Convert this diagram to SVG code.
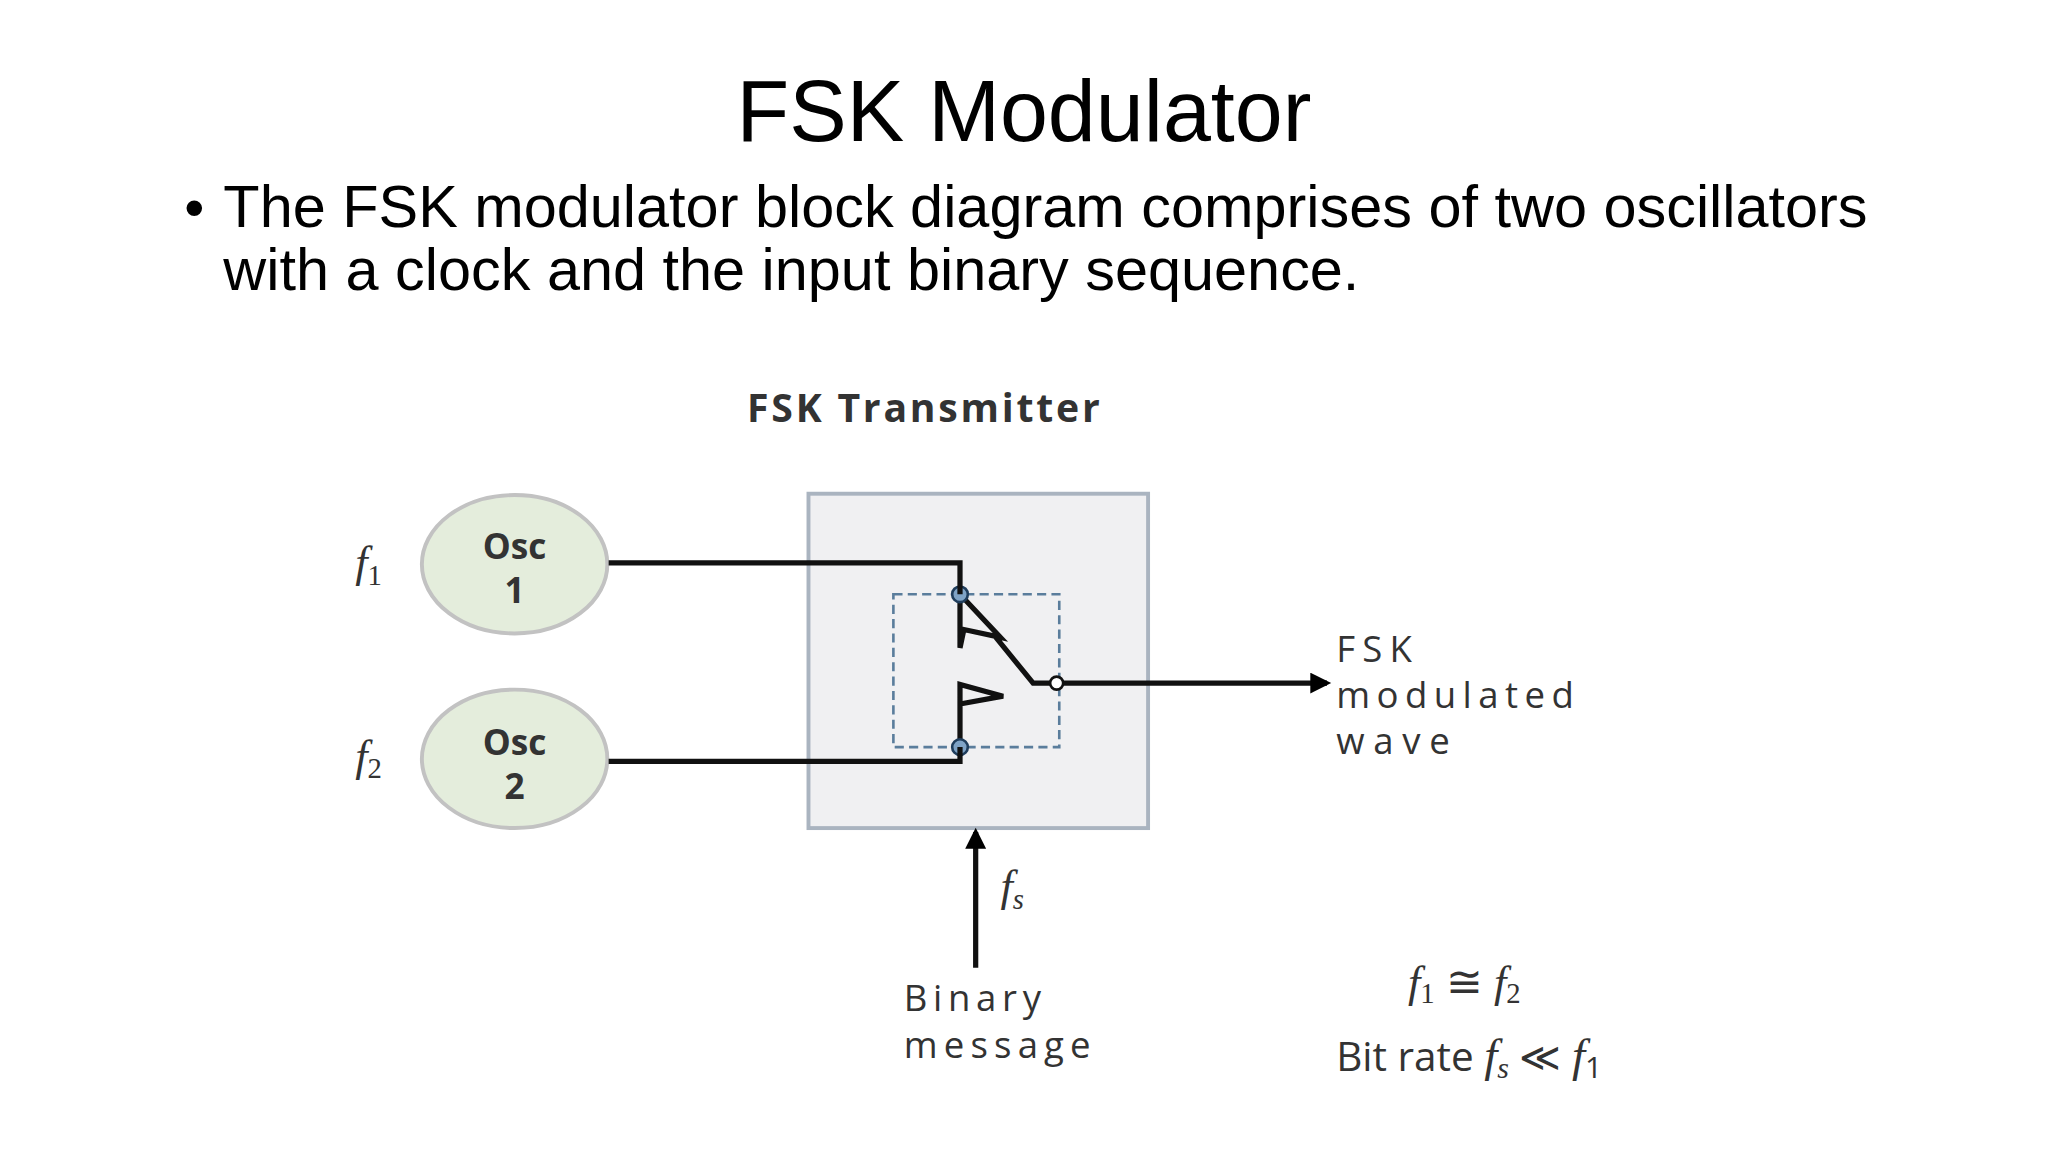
<svg xmlns="http://www.w3.org/2000/svg" width="2048" height="1152" viewBox="0 0 2048 1152">
<style>
.t{font-family:"Liberation Sans",Arial,sans-serif;fill:#000}
.d{font-family:"Open Sans","Liberation Sans",sans-serif;fill:#333}
.m{font-family:"Liberation Serif","Times New Roman",serif;font-style:italic;fill:#333}
.w{stroke:#111;stroke-width:4;fill:none}
</style>
<defs>
<marker id="ah" viewBox="0 0 10 10" refX="8" refY="5" markerWidth="5" markerHeight="4" orient="auto">
<path d="M0,0 L10,5 L0,10 z" fill="#000"/>
</marker>
</defs>
<rect width="2048" height="1152" fill="#fff"/>
<g transform="scale(1.30612)">
<text class="t" x="784" y="108" font-size="66" text-anchor="middle">FSK Modulator</text>
<text class="t" x="141" y="174" font-size="44">•</text>
<text class="t" x="171" y="174" font-size="45.5">The FSK modulator block diagram comprises of two oscillators</text>
<text class="t" x="171" y="222" font-size="45.5">with a clock and the input binary sequence.</text>

<g id="title"><text class="d" x="572" y="323" font-size="30" font-weight="bold" textLength="270" lengthAdjust="spacing">FSK Transmitter</text></g>

<g id="box"><rect x="619" y="378" width="260" height="256" fill="#f0f0f2" stroke="#aab4c0" stroke-width="3"/></g>

<g id="osc1">
<ellipse cx="394" cy="432" rx="71" ry="53" fill="#e4eddc" stroke="#c2c2c2" stroke-width="3"/>
<text class="d" x="394" y="428" font-size="27" font-weight="bold" text-anchor="middle">Osc</text>
<text class="d" x="394" y="462" font-size="27" font-weight="bold" text-anchor="middle">1</text>
<text class="m" x="272" y="442" font-size="34">f<tspan font-size="22" dy="6" font-style="normal">1</tspan></text>
</g>
<g id="osc2">
<ellipse cx="394" cy="581" rx="71" ry="53" fill="#e4eddc" stroke="#c2c2c2" stroke-width="3"/>
<text class="d" x="394" y="578" font-size="27" font-weight="bold" text-anchor="middle">Osc</text>
<text class="d" x="394" y="612" font-size="27" font-weight="bold" text-anchor="middle">2</text>
<text class="m" x="272" y="590" font-size="34">f<tspan font-size="22" dy="6" font-style="normal">2</tspan></text>
</g>

<g id="switch">
<rect x="684" y="455" width="127" height="117" fill="none" stroke="#5a7d9c" stroke-width="2" stroke-dasharray="7,4"/>
<path class="w" d="M735,455 V496 L738,482 L766,488 Z M760,485 L791,523 H806"/>
<path class="w" d="M735,572 V524 L768,533 L735,539"/>
<circle cx="735" cy="455" r="6" fill="#7fa3c6" stroke="#1f3d5c" stroke-width="2"/>
<circle cx="735" cy="572" r="6" fill="#7fa3c6" stroke="#1f3d5c" stroke-width="2"/>
<circle cx="809" cy="523" r="5" fill="#fff" stroke="#111" stroke-width="2"/>
</g>

<g id="connectors">
<path class="w" d="M466,431 H735 V455"/>
<path class="w" d="M466,583 H735 V572"/>
<path class="w" d="M814,523 H1016" marker-end="url(#ah)"/>
<path class="w" d="M747,741 V637" marker-end="url(#ah)"/>
</g>

<g id="labels">
<text class="d" x="1023" y="507" font-size="28" textLength="58" lengthAdjust="spacing">FSK</text>
<text class="d" x="1023" y="542" font-size="28" textLength="182" lengthAdjust="spacing">modulated</text>
<text class="d" x="1023" y="577" font-size="28" textLength="87" lengthAdjust="spacing">wave</text>
<text class="m" x="766" y="690" font-size="34">f<tspan font-size="22" dy="6">s</tspan></text>
<text class="d" x="692" y="774" font-size="28" textLength="105" lengthAdjust="spacing">Binary</text>
<text class="d" x="692" y="810" font-size="28" textLength="143" lengthAdjust="spacing">message</text>
<text class="m" x="1078" y="763" font-size="34">f<tspan font-size="22" dy="5" font-style="normal">1</tspan><tspan dy="-5" font-style="normal"> ≅ </tspan>f<tspan font-size="22" dy="5" font-style="normal">2</tspan></text>
<text class="d" x="1023" y="820" font-size="31">Bit rate <tspan class="m" font-size="36">f</tspan><tspan class="m" font-size="23" dy="5">s</tspan><tspan dy="-5"> ≪ </tspan><tspan class="m" font-size="36">f</tspan><tspan font-size="23" dy="5">1</tspan></text>
</g>
</g>
</svg>
